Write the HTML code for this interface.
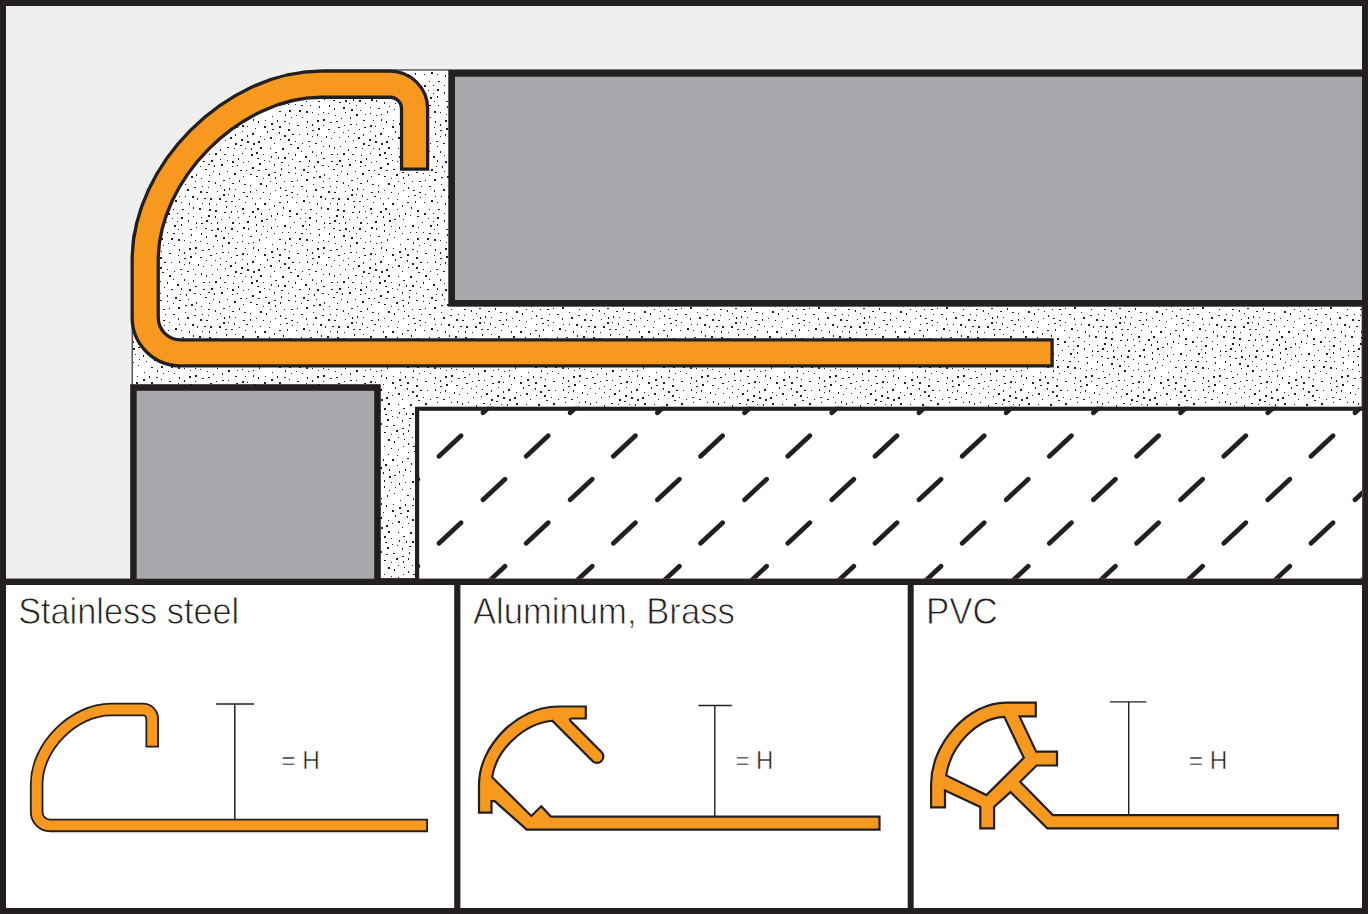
<!DOCTYPE html>
<html><head><meta charset="utf-8"><title>Profile diagram</title>
<style>
html,body{margin:0;padding:0;background:#fff;}
body{width:1368px;height:914px;overflow:hidden;}
svg{display:block;}
text{font-family:"Liberation Sans",sans-serif;}
</style></head><body>
<svg width="1368" height="914" viewBox="0 0 1368 914">
<defs>
<pattern id="stip" x="0" y="0" width="128" height="128" patternUnits="userSpaceOnUse">
<rect width="128" height="128" fill="#fff"/>
<path d="M41 19h2v2h-2zM83 9h1v1h-1zM68 46h1v2h-1zM7 64h1v1h-1zM4 55h2v2h-2zM8 11h1v1h-1zM54 105h1v1h-1zM15 28h1v2h-1zM80 121h2v1h-2zM73 50h1v1h-1zM124 5h2v2h-2zM109 37h1v1h-1zM18 15h1v1h-1zM39 104h1v1h-1zM23 74h2v1h-2zM81 47h1v1h-1zM70 8h1v2h-1zM7 26h1v1h-1zM87 54h1v2h-1zM40 74h1v1h-1zM58 38h1v2h-1zM101 89h1v1h-1zM31 73h1v2h-1zM67 112h1v1h-1zM93 36h2v2h-2zM125 15h2v2h-2zM53 96h1v2h-1zM19 62h1v1h-1zM5 85h1v2h-1zM97 73h2v1h-2zM88 76h1v1h-1zM74 58h1v1h-1zM107 120h2v1h-2zM60 85h1v1h-1zM82 127h2v2h-2zM49 85h1v1h-1zM7 98h1v1h-1zM50 111h2v2h-2zM10 57h1v2h-1zM104 110h1v1h-1zM35 53h2v1h-2zM22 29h1v2h-1zM29 62h2v1h-2zM75 33h2v1h-2zM47 72h2v2h-2zM121 88h1v1h-1zM65 79h1v2h-1zM115 99h2v2h-2zM50 51h2v2h-2zM13 81h1v1h-1zM26 20h2v2h-2zM43 6h1v1h-1zM12 46h2v2h-2zM3 111h1v2h-1zM78 19h1v2h-1zM32 44h2v1h-2zM46 15h1v1h-1zM108 127h2v1h-2zM59 61h2v2h-2zM43 33h2v1h-2zM106 20h1v1h-1zM2 121h1v2h-1zM67 18h1v1h-1zM67 125h1v1h-1zM110 89h1v1h-1zM21 98h1v1h-1zM68 99h1v1h-1zM109 103h1v1h-1zM104 94h2v2h-2zM3 35h2v2h-2zM33 88h2v1h-2zM122 57h1v1h-1zM119 126h1v1h-1zM122 46h2v1h-2zM28 29h2v2h-2zM79 115h1v1h-1zM107 61h1v1h-1zM83 102h2v1h-2zM96 61h1v2h-1zM51 121h1v2h-1zM92 21h1v2h-1zM18 105h1v1h-1zM16 1h2v1h-2zM124 83h2v2h-2zM67 119h2v2h-2zM105 27h1v1h-1zM32 37h1v1h-1zM16 116h1v1h-1zM45 58h2v1h-2zM64 68h2v2h-2zM56 23h1v2h-1zM0 102h1v2h-1zM41 66h1v1h-1zM13 71h1v1h-1zM116 56h2v1h-2zM78 64h2v1h-2zM65 88h1v1h-1zM57 68h1v1h-1zM61 120h2v2h-2zM89 112h1v1h-1zM120 33h1v1h-1zM100 114h2v2h-2zM19 91h1v1h-1zM84 18h1v1h-1zM28 121h2v1h-2zM50 62h1v2h-1zM20 55h1v1h-1zM25 40h1v2h-1zM92 2h1v1h-1zM2 42h2v1h-2zM8 126h2v2h-2zM100 124h1v1h-1zM13 33h1v1h-1zM34 16h2v1h-2zM104 33h2v2h-2zM73 89h1v1h-1zM9 120h1v1h-1zM10 109h1v1h-1zM67 30h2v1h-2zM14 20h1v1h-1zM39 39h1v2h-1zM32 1h2v2h-2zM119 13h2v2h-2zM104 55h2v1h-2zM63 106h1v2h-1zM51 44h2v1h-2zM36 31h1v1h-1zM37 58h1v1h-1zM33 123h1v1h-1zM124 70h1v1h-1zM39 45h1v1h-1zM0 48h2v1h-2zM96 84h2v1h-2zM114 80h2v2h-2zM93 103h1v1h-1zM87 88h1v2h-1zM71 80h2v2h-2zM80 87h2v2h-2zM62 0h2v2h-2zM94 124h2v1h-2zM63 48h2v2h-2zM98 78h1v2h-1zM72 1h2v1h-2zM86 37h1v2h-1zM66 59h2v1h-2zM59 15h2v1h-2zM114 25h1v1h-1zM125 119h1v2h-1zM29 114h1v2h-1zM0 62h1v1h-1zM18 44h2v1h-2zM0 96h1v2h-1zM127 75h2v2h-2zM65 24h1v2h-1zM36 6h2v1h-2zM60 43h1v1h-1zM38 94h1v1h-1zM24 11h1v1h-1zM72 113h1v1h-1zM95 52h2v1h-2zM122 108h2v1h-2zM14 9h2v2h-2zM49 28h2v2h-2zM53 32h1v2h-1zM85 118h1v1h-1zM87 25h2v2h-2zM124 39h2v2h-2zM28 97h2v2h-2zM28 53h1v1h-1zM7 50h1v1h-1zM114 113h1v1h-1zM123 26h2v2h-2zM45 105h2v1h-2zM24 46h1v2h-1zM114 3h1v1h-1zM98 5h1v1h-1zM4 8h1v1h-1zM77 41h2v1h-2zM4 70h1v1h-1zM41 125h2v1h-2zM50 127h1v1h-1zM103 83h1v2h-1zM39 26h1v2h-1zM18 36h1v2h-1zM61 6h1v2h-1zM107 15h2v2h-2zM76 70h2v1h-2zM53 74h1v1h-1zM57 56h1v1h-1zM97 99h1v2h-1zM111 71h1v1h-1zM46 97h2v2h-2zM4 19h2v2h-2zM75 26h2v1h-2zM119 93h2v2h-2zM100 66h1v1h-1zM33 82h2v2h-2zM112 42h2v1h-2zM27 79h1v2h-1zM89 94h1v2h-1zM8 75h2v2h-2zM117 120h1v1h-1zM80 36h2v1h-2zM96 26h2v1h-2zM47 41h2v2h-2zM44 90h1v1h-1zM89 63h1v1h-1zM89 100h2v2h-2zM113 11h2v2h-2zM115 64h2v1h-2zM80 59h1v1h-1zM18 77h1v2h-1zM73 95h2v1h-2zM26 87h1v1h-1zM53 89h2v2h-2zM45 81h1v1h-1zM106 45h2v2h-2zM54 81h2v1h-2zM83 32h2v2h-2zM77 100h2v1h-2zM56 112h1v1h-1zM81 81h2v2h-2zM43 110h2v2h-2zM5 92h2v2h-2zM0 24h2v2h-2zM97 12h1v1h-1zM23 4h1v2h-1zM103 73h2v1h-2zM52 13h2v1h-2zM15 123h2v2h-2zM92 31h1v1h-1zM80 53h2v1h-2zM120 100h1v2h-1zM5 106h1v1h-1zM11 103h1v1h-1zM61 75h1v2h-1zM107 6h1v2h-1zM28 7h2v2h-2zM91 70h2v2h-2zM40 115h1v1h-1zM32 25h1v1h-1zM106 67h1v2h-1zM73 17h1v2h-1zM122 63h1v2h-1zM32 104h1v1h-1zM89 13h1v1h-1zM99 43h1v1h-1zM107 78h1v1h-1zM110 30h1v2h-1zM78 108h1v2h-1zM72 63h2v2h-2zM91 45h1v2h-1zM57 49h2v1h-2zM74 122h2v1h-2zM104 38h1v1h-1zM45 23h1v1h-1zM93 91h1v1h-1zM21 85h1v2h-1zM10 91h2v1h-2zM56 124h1v2h-1zM14 65h1v1h-1zM75 10h1v1h-1zM72 38h1v1h-1zM117 74h1v1h-1zM24 68h1v1h-1zM78 92h2v2h-2zM94 117h1v2h-1zM69 70h1v2h-1zM88 125h1v1h-1zM127 0h2v1h-2zM82 70h2v2h-2zM60 92h1v2h-1zM51 5h1v2h-1zM45 47h1v1h-1zM21 120h1v2h-1zM62 101h2v1h-2zM66 37h2v1h-2zM15 87h1v2h-1zM73 105h1v2h-1zM46 117h1v1h-1zM23 111h2v1h-2zM9 41h2v1h-2zM115 48h1v1h-1zM56 8h1v1h-1zM100 105h1v1h-1zM123 20h1v2h-1zM41 52h1v1h-1zM61 33h2v2h-2zM112 17h2v1h-2zM95 109h2v2h-2zM87 4h1v1h-1zM35 64h2v1h-2zM34 99h1v1h-1zM78 4h1v1h-1zM125 114h1v1h-1zM35 117h1v1h-1zM15 99h1v2h-1zM111 52h1v2h-1zM115 34h1v1h-1zM114 107h1v1h-1zM1 30h2v1h-2zM99 19h2v1h-2zM67 53h1v1h-1zM26 104h1v1h-1zM39 13h1v1h-1zM33 110h2v2h-2zM11 3h1v2h-1zM85 43h1v1h-1zM65 13h1v1h-1zM36 69h1v1h-1zM23 126h2v2h-2zM40 85h2v2h-2zM101 50h1v1h-1zM87 82h2v2h-2zM51 68h1v1h-1zM115 85h1v1h-1zM99 32h1v1h-1zM53 18h1v1h-1zM19 24h2v1h-2zM14 53h1v1h-1zM74 75h1v1h-1zM81 26h1v1h-1zM111 95h1v1h-1zM109 114h1v1h-1zM103 1h1v1h-1zM102 9h2v2h-2zM114 125h2v2h-2zM87 107h2v2h-2zM118 42h1v1h-1zM30 67h2v1h-2zM101 60h1v2h-1zM127 88h2v2h-2zM60 27h1v1h-1zM19 49h1v2h-1zM56 2h2v1h-2zM1 80h2v2h-2zM32 11h2v2h-2zM24 59h1v2h-1zM25 34h2v1h-2zM83 95h1v1h-1zM120 115h1v1h-1zM81 75h1v2h-1zM8 32h1v1h-1zM62 114h1v1h-1zM95 66h2v2h-2zM118 68h2v1h-2zM119 7h1v2h-1zM103 100h2v2h-2zM52 38h1v1h-1zM92 8h1v1h-1zM117 20h1v1h-1zM92 57h1v1h-1zM2 13h2v2h-2zM68 94h1v2h-1zM49 93h1v1h-1zM50 101h1v1h-1zM109 83h1v1h-1z" fill="#231f20"/>
</pattern>
<clipPath id="hclip"><rect x="415" y="406.7" width="947" height="172"/></clipPath>
</defs>
<!-- frame background -->
<rect x="0" y="0" width="1368" height="914" fill="#231f20"/>
<rect x="6" y="6" width="1356" height="572.75" fill="#eef0ef"/>
<!-- stipple region -->
<rect x="132.2" y="70" width="1230" height="508.75" fill="url(#stip)" stroke="#231f20" stroke-width="1.1"/>
<path d="M126 64 H323.00 V69.55 H321.00 C225.77 69.55 130.55 164.78 130.55 260.00 V262.00 H126 Z" fill="#eef0ef"/>
<!-- big gray slab -->
<rect x="448.3" y="70" width="920" height="236.7" fill="#231f20"/>
<rect x="455" y="76.7" width="907" height="223.3" fill="#a7a8ab"/>
<!-- left gray slab -->
<rect x="130.2" y="384.2" width="250.6" height="200" fill="#231f20"/>
<rect x="136.7" y="390.8" width="237.5" height="190" fill="#a7a8ab"/>
<!-- hatched substrate -->
<rect x="415" y="406.7" width="950" height="180" fill="#231f20"/>
<rect x="419.2" y="410.8" width="943" height="168" fill="#fff"/>
<path d="M395.8 412.8L417.8 392.2M483.0 412.8L505.0 392.2M570.2 412.8L592.2 392.2M657.4 412.8L679.4 392.2M744.6 412.8L766.6 392.2M831.8 412.8L853.8 392.2M919.0 412.8L941.0 392.2M1006.2 412.8L1028.2 392.2M1093.4 412.8L1115.4 392.2M1180.6 412.8L1202.6 392.2M1267.8 412.8L1289.8 392.2M1355.0 412.8L1377.0 392.2M1442.2 412.8L1464.2 392.2M1529.4 412.8L1551.4 392.2M351.8 456.3L373.8 435.7M439.0 456.3L461.0 435.7M526.2 456.3L548.2 435.7M613.4 456.3L635.4 435.7M700.6 456.3L722.6 435.7M787.8 456.3L809.8 435.7M875.0 456.3L897.0 435.7M962.2 456.3L984.2 435.7M1049.4 456.3L1071.4 435.7M1136.6 456.3L1158.6 435.7M1223.8 456.3L1245.8 435.7M1311.0 456.3L1333.0 435.7M1398.2 456.3L1420.2 435.7M1485.4 456.3L1507.4 435.7M395.8 499.8L417.8 479.2M483.0 499.8L505.0 479.2M570.2 499.8L592.2 479.2M657.4 499.8L679.4 479.2M744.6 499.8L766.6 479.2M831.8 499.8L853.8 479.2M919.0 499.8L941.0 479.2M1006.2 499.8L1028.2 479.2M1093.4 499.8L1115.4 479.2M1180.6 499.8L1202.6 479.2M1267.8 499.8L1289.8 479.2M1355.0 499.8L1377.0 479.2M1442.2 499.8L1464.2 479.2M1529.4 499.8L1551.4 479.2M351.8 543.3L373.8 522.7M439.0 543.3L461.0 522.7M526.2 543.3L548.2 522.7M613.4 543.3L635.4 522.7M700.6 543.3L722.6 522.7M787.8 543.3L809.8 522.7M875.0 543.3L897.0 522.7M962.2 543.3L984.2 522.7M1049.4 543.3L1071.4 522.7M1136.6 543.3L1158.6 522.7M1223.8 543.3L1245.8 522.7M1311.0 543.3L1333.0 522.7M1398.2 543.3L1420.2 522.7M1485.4 543.3L1507.4 522.7M395.8 586.8L417.8 566.2M483.0 586.8L505.0 566.2M570.2 586.8L592.2 566.2M657.4 586.8L679.4 566.2M744.6 586.8L766.6 566.2M831.8 586.8L853.8 566.2M919.0 586.8L941.0 566.2M1006.2 586.8L1028.2 566.2M1093.4 586.8L1115.4 566.2M1180.6 586.8L1202.6 566.2M1267.8 586.8L1289.8 566.2M1355.0 586.8L1377.0 566.2M1442.2 586.8L1464.2 566.2M1529.4 586.8L1551.4 566.2M351.8 630.3L373.8 609.7M439.0 630.3L461.0 609.7M526.2 630.3L548.2 609.7M613.4 630.3L635.4 609.7M700.6 630.3L722.6 609.7M787.8 630.3L809.8 609.7M875.0 630.3L897.0 609.7M962.2 630.3L984.2 609.7M1049.4 630.3L1071.4 609.7M1136.6 630.3L1158.6 609.7M1223.8 630.3L1245.8 609.7M1311.0 630.3L1333.0 609.7M1398.2 630.3L1420.2 609.7M1485.4 630.3L1507.4 609.7M395.8 673.8L417.8 653.2M483.0 673.8L505.0 653.2M570.2 673.8L592.2 653.2M657.4 673.8L679.4 653.2M744.6 673.8L766.6 653.2M831.8 673.8L853.8 653.2M919.0 673.8L941.0 653.2M1006.2 673.8L1028.2 653.2M1093.4 673.8L1115.4 653.2M1180.6 673.8L1202.6 653.2M1267.8 673.8L1289.8 653.2M1355.0 673.8L1377.0 653.2M1442.2 673.8L1464.2 653.2M1529.4 673.8L1551.4 653.2" clip-path="url(#hclip)" stroke="#231f20" stroke-width="4.7" stroke-linecap="round" fill="none"/>
<!-- big profile -->
<path d="M1053.75 352.90 H180.6 A35.4 35.4 0 0 1 145.20 317.5 V260.00 C145.20 172.10 233.10 84.20 321.00 84.20 H390.1 A24.5 24.5 0 0 1 414.60 108.7 V170.8" fill="none" stroke="#231f20" stroke-width="29.4"/>
<path d="M1050.45 352.90 H180.6 A35.4 35.4 0 0 1 145.20 317.5 V260.00 C145.20 172.10 233.10 84.20 321.00 84.20 H390.1 A24.5 24.5 0 0 1 414.60 108.7 V167.5" fill="none" stroke="#f7981f" stroke-width="22.8"/>
<!-- dividers -->
<rect x="0" y="578.75" width="1368" height="6.25" fill="#231f20"/>
<rect x="6" y="585" width="448.2" height="323" fill="#fff"/>
<rect x="460.4" y="585" width="447.3" height="323" fill="#fff"/>
<rect x="913.7" y="585" width="448.3" height="323" fill="#fff"/>
<!-- panel labels -->
<text transform="translate(18.15 624.2) scale(0.927 1)" font-size="37" fill="#231f20" stroke="#fff" stroke-width="0.8">Stainless steel</text>
<text transform="translate(472.9 624.2) scale(0.937 1)" font-size="37" fill="#231f20" stroke="#fff" stroke-width="0.8">Aluminum, Brass</text>
<text transform="translate(926 624.2) scale(0.944 1)" font-size="37" fill="#231f20" stroke="#fff" stroke-width="0.8">PVC</text>
<!-- panel 1 -->
<path d="M428 825.4 H50.05 A13.4 13.4 0 0 1 36.65 812 V783.85 C36.65 746.67 73.83 709.50 111.00 709.50 H143.1 A9.1 9.1 0 0 1 152.2 718.6 V747.5" fill="none" stroke="#231f20" stroke-width="13.5"/>
<path d="M426.2 825.4 H50.05 A13.4 13.4 0 0 1 36.65 812 V783.85 C36.65 746.67 73.83 709.50 111.00 709.50 H143.1 A9.1 9.1 0 0 1 152.2 718.6 V745.7" fill="none" stroke="#f7981f" stroke-width="9.9"/>
<path d="M216.1 704H254M234.8 704V819" stroke="#231f20" stroke-width="1.5" fill="none"/>
<text transform="translate(281.3 769.2) scale(0.977 1)" font-size="25" fill="#231f20" stroke="#fff" stroke-width="0.5">= H</text>
<!-- panel 2 -->
<path d="M479.0 812.7 V784.5 C479.00 745.50 518.25 706.50 557.50 706.50 H585.8 V718.5 H572.45 Q568.0 718.5 571.15 721.65 L601.50 752.00 A6.36 6.36 0 0 1 592.50 761.00 L552.22 720.77 C523.63 723.67 496.38 749.49 492.16 777.17 L531.3 816.0 L541.3 806.3 L550.9 816.60 H879.5 V829.60 H526.70 L494.6 801.1 H491.5 V812.7 Z" fill="#f7981f" stroke="#231f20" stroke-width="2.2" stroke-linejoin="miter"/>
<path d="M698.4 705.5H731.8M714.8 705.5V816" stroke="#231f20" stroke-width="1.4" fill="none"/>
<text transform="translate(735.4 769.2) scale(0.96 1)" font-size="25" fill="#231f20" stroke="#fff" stroke-width="0.5">= H</text>
<!-- panel 3 -->
<path d="M931.1 807.4 V783.9 C931.10 743.25 968.55 702.60 1006.00 702.60 H1035.8 V716.4 H1019.5 L1036.2 751.65 H1057.0 V765.5 H1036.6 L1020.2 781.8 L1052.9 815.1 H1338.0 V828.4 H1047.3 L1010.5 792.1 L994.1 806.9 V828.4 H980.3 V806.9 L945 790.5 V807.4 Z M1004.28 716.84 C977.23 717.97 950.64 745.52 946.24 775.37 L986.4 795.1 L1023.8 757.8 Z" fill="#f7981f" fill-rule="evenodd" stroke="#231f20" stroke-width="2.2" stroke-linejoin="miter"/>
<path d="M1110 701.9H1146.4M1128.7 701.9V815" stroke="#231f20" stroke-width="1.4" fill="none"/>
<text transform="translate(1188.7 769.2) scale(0.977 1)" font-size="25" fill="#231f20" stroke="#fff" stroke-width="0.5">= H</text>
</svg>
</body></html>
